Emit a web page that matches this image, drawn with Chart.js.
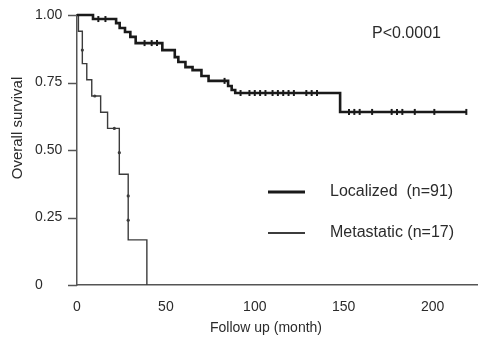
<!DOCTYPE html>
<html>
<head>
<meta charset="utf-8">
<script src="https://cdn.jsdelivr.net/npm/chart.js@4.4.1/dist/chart.umd.min.js"></script>
<style>
  html, body { margin: 0; padding: 0; background: #fff; }
  #wrap { width: 483px; height: 338px; }
</style>
</head>
<body>
<div id="wrap"><canvas id="km" width="483" height="338"></canvas></div>
<script>
// Kaplan-Meier steps (month, survival)
const locTime = [0, 9, 22, 24, 27, 30, 33, 48, 55, 57, 61, 65, 70, 74, 85, 87, 89, 148, 219];
const locSurv = [1.00, 0.985, 0.97, 0.952, 0.937, 0.919, 0.896, 0.87, 0.844, 0.826, 0.807, 0.796, 0.774, 0.756, 0.737, 0.722, 0.711, 0.641, 0.641];
const metTime = [0, 0.8, 3, 5.5, 8.3, 13.3, 17.2, 23.8, 28.8, 39.3];
const metSurv = [1.00, 0.94, 0.82, 0.76, 0.70, 0.64, 0.58, 0.41, 0.167, 0];

// censoring marks
const locCensorTime = [12, 16, 38, 42, 45, 83, 92, 97, 100, 103, 106, 110, 113, 116, 119, 122, 129, 132, 135, 153, 156, 159, 166, 177, 180, 183, 190, 201, 219];
const locCensorSurv = [0.985, 0.985, 0.896, 0.896, 0.896, 0.756, 0.711, 0.711, 0.711, 0.711, 0.711, 0.711, 0.711, 0.711, 0.711, 0.711, 0.711, 0.711, 0.711, 0.641, 0.641, 0.641, 0.641, 0.641, 0.641, 0.641, 0.641, 0.641, 0.641];
const metCensorTime = [3, 10, 21, 23.8, 28.8, 28.8];
const metCensorSurv = [0.87, 0.70, 0.58, 0.49, 0.33, 0.24];

const seriesLabels = ['Localized  (n=91)', 'Metastatic (n=17)'];
const xTicks = [0, 50, 100, 150, 200];
const yTicks = [0, 0.25, 0.5, 0.75, 1];
const yTickLabels = ['0', '0.25', '0.50', '0.75', '1.00'];
const pValueText = 'P<0.0001';
const xTitle = 'Follow up (month)';
const yTitle = 'Overall survival';

const inkDark = '#1a1a1a';
const inkThin = '#3c3c3c';
const textColor = '#2b2b2b';
const axisColor = '#555';
const fontFamily = '"Liberation Sans", Arial, sans-serif';

const toPoints = (t, s) => t.map((v, i) => ({ x: v, y: s[i] }));

// y tick dashes, legend and texts
const annotations = {
  id: 'annotations',
  afterDraw(chart) {
    const ctx = chart.ctx;
    const yScale = chart.scales.y;
    const left = chart.chartArea.left;
    ctx.save();

    ctx.strokeStyle = axisColor;
    ctx.lineWidth = 1.5;
    yTicks.forEach(v => {
      const py = Math.round(yScale.getPixelForValue(v)) + 0.5;
      ctx.beginPath();
      ctx.moveTo(left - 9, py);
      ctx.lineTo(left, py);
      ctx.stroke();
    });

    ctx.fillStyle = textColor;
    ctx.textBaseline = 'middle';

    ctx.font = '16px ' + fontFamily;
    ctx.textAlign = 'left';
    ctx.fillText(pValueText, 372, 34);

    // legend
    const legendRows = [
      { y: 192, width: 3, color: inkDark },
      { y: 233, width: 2, color: inkThin }
    ];
    legendRows.forEach((row, i) => {
      ctx.strokeStyle = row.color;
      ctx.lineWidth = row.width;
      ctx.beginPath();
      ctx.moveTo(268, row.y);
      ctx.lineTo(305, row.y);
      ctx.stroke();
      ctx.fillText(seriesLabels[i], 330, row.y);
    });

    // axis titles
    ctx.font = '14px ' + fontFamily;
    ctx.textAlign = 'center';
    ctx.fillText(xTitle, 266, 328);

    ctx.font = '15px ' + fontFamily;
    ctx.translate(18, 128);
    ctx.rotate(-Math.PI / 2);
    ctx.fillText(yTitle, 0, 0);
    ctx.restore();
  }
};

new Chart(document.getElementById('km').getContext('2d'), {
  type: 'line',
  data: {
    datasets: [
      {
        label: seriesLabels[0],
        data: toPoints(locTime, locSurv),
        stepped: 'before',
        borderColor: inkDark,
        borderWidth: 2.6,
        pointRadius: 0,
        fill: false,
        clip: false
      },
      {
        label: seriesLabels[1],
        data: toPoints(metTime, metSurv),
        stepped: 'before',
        borderColor: inkThin,
        borderWidth: 1.4,
        pointRadius: 0,
        fill: false,
        clip: false
      },
      {
        type: 'scatter',
        label: 'censored localized',
        data: toPoints(locCensorTime, locCensorSurv),
        pointStyle: 'line',
        rotation: 90,
        pointRadius: 3,
        borderColor: inkDark,
        borderWidth: 2,
        clip: false
      },
      {
        type: 'scatter',
        label: 'censored metastatic',
        data: toPoints(metCensorTime, metCensorSurv),
        pointStyle: 'circle',
        pointRadius: 1.6,
        backgroundColor: inkThin,
        borderColor: inkThin,
        borderWidth: 0,
        clip: false
      }
    ]
  },
  options: {
    responsive: false,
    animation: false,
    devicePixelRatio: 1,
    layout: { padding: { top: 15, left: 35, right: 0, bottom: 0 } },
    plugins: {
      legend: { display: false },
      tooltip: { enabled: false },
      title: { display: false }
    },
    scales: {
      x: {
        type: 'linear',
        min: 0,
        max: 225,
        afterBuildTicks: scale => { scale.ticks = xTicks.map(v => ({ value: v })); },
        afterFit: scale => { scale.height = 53; },
        grid: { drawOnChartArea: false, drawTicks: false },
        border: { display: true, color: axisColor, width: 1.5 },
        ticks: {
          color: textColor,
          padding: 14,
          maxRotation: 0,
          font: { family: fontFamily, size: 14 }
        }
      },
      y: {
        min: 0,
        max: 1,
        afterBuildTicks: scale => { scale.ticks = yTicks.map(v => ({ value: v })); },
        afterFit: scale => { scale.width = 42; },
        grid: { drawOnChartArea: false, drawTicks: false },
        border: { display: true, color: axisColor, width: 1.5 },
        ticks: {
          color: textColor,
          crossAlign: 'far',
          padding: 0,
          font: { family: fontFamily, size: 14 },
          callback: (value) => yTickLabels[yTicks.indexOf(value)]
        }
      }
    }
  },
  plugins: [annotations]
});
</script>
</body>
</html>
